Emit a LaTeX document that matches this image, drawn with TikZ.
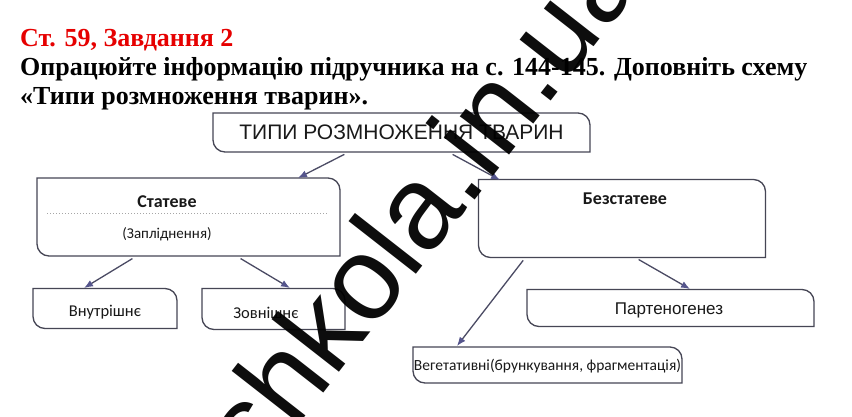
\documentclass[tikz,border=0pt]{standalone}
\usepackage{fontspec}
\setmainfont{Liberation Serif}
\newfontfamily\arialf{Liberation Sans}
\newfontfamily\calif{Carlito}
\usetikzlibrary{arrows.meta}
\definecolor{hdrred}{RGB}{230,0,0}
\definecolor{boxgray}{RGB}{70,70,85}
\definecolor{arrgray}{RGB}{75,75,100}
\definecolor{tipblue}{RGB}{85,85,140}
\definecolor{txt}{RGB}{25,25,25}
\def\leafr{12pt}
\newcommand\leafbox[1]{\draw[boxline] (#1.north west) -- ([xshift=-\leafr]#1.north east) arc[start angle=90,end angle=0,radius=\leafr] -- (#1.south east) -- ([xshift=\leafr]#1.south west) arc[start angle=270,end angle=180,radius=\leafr] -- cycle;}
\tikzset{
  boxline/.style={draw=boxgray, line width=1.3pt},
  frame/.style={rectangle, inner sep=0pt, outer sep=0pt},
  conn/.style={draw=arrgray, line width=1.3pt, shorten <=3pt, -{Latex[length=9pt,width=7pt,color=tipblue]}},
  hdr/.style={anchor=base west, inner sep=0pt, font=\fontsize{26}{30}\selectfont\bfseries},
  lbl/.style={inner sep=0pt, text=txt},
}
\begin{document}
\begin{tikzpicture}[x=1pt,y=1pt]
\useasboundingbox[fill=white] (0,0) rectangle (852,-416);
% header
\node[hdr, text=hdrred] (h1) at (20,-46) {Ст. 59, Завдання 2};
\node[hdr] (h2) at (20,-75) {Опрацюйте інформацію підручника на с. 144-145. Доповніть схему};
\node[hdr] (h3) at (20,-104) {«Типи розмноження тварин».};
% boxes
\node[frame, minimum width=377pt, minimum height=39pt] (T) at (401.5,-132.5) {};
\node[frame, minimum width=303pt, minimum height=78pt] (S) at (188.5,-217) {};
\node[frame, minimum width=287pt, minimum height=78pt] (B) at (622,-218.5) {};
\node[frame, minimum width=144pt, minimum height=40pt] (V) at (105,-308.5) {};
\node[frame, minimum width=143pt, minimum height=41pt] (Z) at (273.5,-309) {};
\node[frame, minimum width=287pt, minimum height=37pt] (P) at (670.5,-308) {};
\node[frame, minimum width=269pt, minimum height=36pt] (G) at (547.5,-365) {};
\leafbox{T}\leafbox{S}\leafbox{B}\leafbox{V}\leafbox{Z}\leafbox{P}\leafbox{G}
% labels
\node[lbl, font=\arialf\fontsize{21}{24}\selectfont] (tT) at (T.center) {ТИПИ РОЗМНОЖЕННЯ ТВАРИН};
\node[lbl, font=\calif\bfseries\fontsize{18}{20}\selectfont] (tS) at (167,-202) {Статеве};
\draw[gray!70, line width=1pt, dotted] (47,-213) -- (328,-213);
\node[lbl, font=\calif\fontsize{15}{18}\selectfont] (tS2) at (167,-234) {(Запліднення)};
\node[lbl, font=\calif\bfseries\fontsize{18}{20}\selectfont] (tB) at (625,-199) {Безстатеве};
\node[lbl, font=\calif\fontsize{16.5}{19}\selectfont] (tV) at (105,-312) {Внутрішнє};
\node[lbl, font=\calif\fontsize{16.5}{19}\selectfont] (tZ) at (266,-313) {Зовнішнє};
\node[lbl, font=\arialf\fontsize{17}{20}\selectfont] (tP) at (669,-310) {Партеногенез};
\node[lbl, font=\calif\fontsize{15.5}{18}\selectfont] (tG) at (547.5,-366) {Вегетативні(брункування, фрагментація)};
% connectors
\coordinate (a1) at (347,-153); \coordinate (a1e) at (298,-178);
\coordinate (a2) at (450,-153); \coordinate (a2e) at (500,-180);
\draw[conn] (a1) -- (a1e);
\draw[conn] (a2) -- (a2e);
\coordinate (s1) at (135,-257); \coordinate (s1e) at (84,-288);
\coordinate (s2) at (238,-257); \coordinate (s2e) at (290,-288);
\draw[conn] (s1) -- (s1e);
\draw[conn] (s2) -- (s2e);
\coordinate (b1) at (525,-258); \coordinate (b1e) at (457,-346);
\coordinate (b2) at (636,-258); \coordinate (b2e) at (690,-289);
\draw[conn] (b1) -- (b1e);
\draw[conn] (b2) -- (b2e);
% watermark
\node[anchor=base west, inner sep=0pt, rotate=52, text=black, opacity=0.95, font=\arialf\fontsize{118}{122}\selectfont] (wm) at (258,-477) {shkola.in.ua};
\end{tikzpicture}
\end{document}
